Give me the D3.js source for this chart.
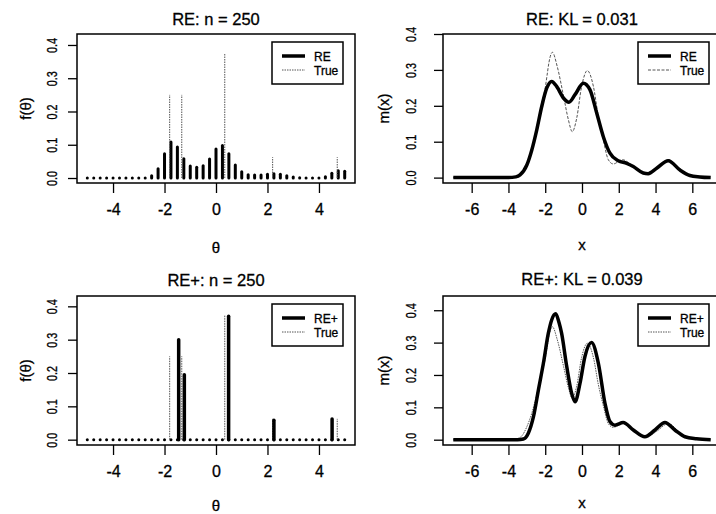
<!DOCTYPE html>
<html>
<head>
<meta charset="utf-8">
<script src="https://cdn.jsdelivr.net/npm/d3@7"></script>
<style>
body { margin: 0; background: #fff; }
svg { display: block; font-family: "Liberation Sans", Arial, sans-serif; }
svg text { stroke: #000; stroke-width: 0.3px; }
</style>
</head>
<body>
<svg width="716" height="514"></svg>
<script>
// grid of theta values that carry the RE estimate
var thetaGrid = [-5, -4.75, -4.5, -4.25, -4, -3.75, -3.5, -3.25, -3, -2.75,
  -2.5, -2.25, -2, -1.75, -1.5, -1.25, -1, -0.75, -0.5, -0.25,
  0, 0.25, 0.5, 0.75, 1, 1.25, 1.5, 1.75, 2, 2.25,
  2.5, 2.75, 3, 3.25, 3.5, 3.75, 4, 4.25, 4.5, 4.75, 5];
var reMass = [0, 0, 0, 0, 0, 0, 0, 0, 0, 0,
  0.007, 0.028, 0.073, 0.108, 0.093, 0.058, 0.036, 0.032, 0.037, 0.057,
  0.087, 0.098, 0.073, 0.039, 0.019, 0.010, 0.009, 0.009, 0.011, 0.013,
  0.011, 0.007, 0.003, 0.001, 0, 0, 0, 0.004, 0.014, 0.022, 0.020];

// true mixing distribution
var trueAtoms = [-1.8, -1.33, 0.34, 2.2, 4.71];
var trueMass = [0.25, 0.25, 0.375, 0.0625, 0.0625];

// RE+ estimate
var rePlusAtoms = [-1.45, -1.23, 0.49, 2.25, 4.51];
var rePlusMass = [0.30, 0.195, 0.37, 0.058, 0.062];

// marginal densities m(x)
var reX = [-7, -4, -3.6, -3.37, -3.0, -2.73, -2.46, -2.19, -1.92, -1.65,
  -1.38, -1.0, -0.71, -0.38, 0.07, 0.43, 0.8, 1.16, 1.52, 1.97,
  2.43, 2.79, 3.33, 3.6, 4.06, 4.69, 5.33, 5.87, 6.41, 7];
var reM = [0, 0, 0.002, 0.0075, 0.035, 0.077, 0.133, 0.198, 0.249, 0.268,
  0.254, 0.221, 0.21, 0.231, 0.263, 0.245, 0.18, 0.114, 0.068, 0.047,
  0.04, 0.031, 0.013, 0.011, 0.026, 0.047, 0.021, 0.006, 0.002, 0];

var rePlusX = [-7, -3.5, -3.19, -2.92, -2.64, -2.37, -2.1, -1.83, -1.65, -1.43,
  -1.25, -1.11, -0.83, -0.56, -0.38, -0.11, 0.16, 0.52, 0.89, 1.25,
  1.52, 1.79, 2.24, 2.79, 3.42, 3.97, 4.51, 5.05, 5.6, 6.23, 7];
var rePlusM = [0, 0, 0.002, 0.02, 0.071, 0.154, 0.236, 0.329, 0.37, 0.389,
  0.362, 0.329, 0.226, 0.143, 0.117, 0.174, 0.257, 0.30, 0.236, 0.112,
  0.056, 0.045, 0.053, 0.03, 0.009, 0.03, 0.053, 0.03, 0.009, 0.003, 0];

var trueX = [-7, -4, -3.6, -3.3, -3.0, -2.73, -2.46, -2.2, -2.0, -1.9,
  -1.8, -1.61, -1.35, -1.0, -0.74, -0.53, -0.29, -0.02, 0.29, 0.62,
  0.89, 1.16, 1.43, 1.7, 2.2, 2.7, 3.3, 3.6, 4.06, 4.7,
  5.33, 5.87, 6.41, 7];
var trueM = [0, 0, 0.002, 0.01, 0.04, 0.082, 0.14, 0.205, 0.25, 0.285,
  0.32, 0.349, 0.31, 0.226, 0.161, 0.128, 0.165, 0.254, 0.298, 0.254,
  0.17, 0.105, 0.05, 0.038, 0.05, 0.035, 0.013, 0.011, 0.026, 0.05,
  0.021, 0.006, 0.002, 0];

var thetaTicks = [-4, -2, 0, 2, 4],
    xTicks = [-6, -4, -2, 0, 2, 4, 6],
    yTicks = [0, 0.1, 0.2, 0.3, 0.4];

var svg = d3.select("svg");
var trueColor = "#555";

function drawPanel(p) {
  var x = d3.scaleLinear().domain(p.xdom).range([p.left, p.right]),
      y = d3.scaleLinear().domain(p.ydom).range([p.bottom, p.top]);
  var g = svg.append("g");

  g.append("clipPath").attr("id", p.id)
    .append("rect")
      .attr("x", p.left).attr("y", p.top)
      .attr("width", p.right - p.left).attr("height", p.bottom - p.top);

  var plot = g.append("g").attr("clip-path", "url(#" + p.id + ")");
  p.marks(plot, x, y);

  // box
  g.append("rect")
      .attr("x", p.left).attr("y", p.top)
      .attr("width", p.right - p.left).attr("height", p.bottom - p.top)
      .attr("fill", "none").attr("stroke", "#000").attr("stroke-width", 1.5);

  // x axis
  g.append("g")
      .attr("transform", "translate(0," + p.bottom + ")")
      .call(d3.axisBottom(x).tickValues(p.xticks).tickSize(10).tickFormat(function(d) { return String(d); }))
      .call(function(a) {
        a.attr("font-family", null).attr("font-size", 16);
        a.select(".domain").remove();
        a.selectAll(".tick line").attr("stroke-width", 1.3);
        a.selectAll("text").attr("y", 32).attr("dy", 0).attr("fill", "#000");
      });

  // y axis, labels parallel to the axis like R
  g.append("g")
      .attr("transform", "translate(" + p.left + ",0)")
      .call(d3.axisLeft(y).tickValues(yTicks).tickSize(9).tickFormat(d3.format(".1f")))
      .call(function(a) {
        a.attr("font-family", null).attr("font-size", 14);
        a.select(".domain").remove();
        a.selectAll(".tick line").attr("stroke-width", 1.3);
        a.selectAll("text")
            .attr("transform", "rotate(-90)")
            .attr("x", 0).attr("y", p.ytickOff).attr("dy", 0)
            .attr("text-anchor", "middle").attr("fill", "#000")
            .attr("textLength", 15).attr("lengthAdjust", "spacingAndGlyphs");
      });

  var cx = (p.left + p.right) / 2, cy = (p.top + p.bottom) / 2;
  g.append("text").attr("x", cx).attr("y", p.titleY)
      .attr("text-anchor", "middle").attr("font-size", 16.5).text(p.title);
  g.append("text").attr("x", cx).attr("y", p.xlabY)
      .attr("text-anchor", "middle").attr("font-size", 15).text(p.xlab);
  g.append("text").attr("transform", "translate(" + p.ylabX + "," + cy + ") rotate(-90)")
      .attr("text-anchor", "middle").attr("font-size", 15).text(p.ylab);

  // legend
  var lg = g.append("g").attr("transform", "translate(" + (p.right - 83) + "," + (p.top + 8) + ")");
  lg.append("rect").attr("width", 71).attr("height", 42)
      .attr("fill", "#fff").attr("stroke", "#000").attr("stroke-width", 1.5);
  lg.append("line").attr("x1", 10).attr("x2", 33).attr("y1", 14).attr("y2", 14)
      .attr("stroke", "#000").attr("stroke-width", 3.5);
  lg.append("line").attr("x1", 10).attr("x2", 33).attr("y1", 28).attr("y2", 28)
      .attr("stroke", trueColor).attr("stroke-width", 1).attr("stroke-dasharray", p.dash);
  lg.append("text").attr("x", 42).attr("y", 19).attr("font-size", 12).text(p.est);
  lg.append("text").attr("x", 42).attr("y", 33).attr("font-size", 12).text("True");
}

function spikes(sel, xs, ms, x, y, width, color, dash) {
  sel.append("g").selectAll("path")
    .data(xs.map(function(v, i) { return [v, ms[i]]; }))
    .join("path")
      .attr("d", function(d) { return "M" + x(d[0]) + "," + y(0) + "L" + x(d[0]) + "," + y(d[1]); })
      .attr("stroke", color).attr("stroke-width", width)
      .attr("stroke-linecap", dash ? "butt" : "round")
      .attr("stroke-dasharray", dash || null);
}

function curve(sel, xs, ms, x, y, width, color, dash) {
  var line = d3.line().curve(d3.curveMonotoneX)
      .x(function(d) { return x(d[0]); })
      .y(function(d) { return y(d[1]); });
  sel.append("path")
      .datum(xs.map(function(v, i) { return [v, ms[i]]; }))
      .attr("d", line)
      .attr("fill", "none").attr("stroke", color).attr("stroke-width", width)
      .attr("stroke-linejoin", "round")
      .attr("stroke-dasharray", dash || null);
}

var zeros = thetaGrid.map(function() { return 0; });

drawPanel({
  id: "c1", left: 77, right: 355, top: 34, bottom: 183,
  xdom: [-5.4, 5.4], ydom: [-0.015, 0.433], xticks: thetaTicks, ytickOff: -20,
  title: "RE: n = 250", titleY: 25, xlab: "\u03b8", xlabY: 253, ylab: "f(\u03b8)", ylabX: 31,
  est: "RE", dash: "1.5,1",
  marks: function(s, x, y) {
    spikes(s, thetaGrid, reMass, x, y, 3, "#000");
    spikes(s, trueAtoms, trueMass, x, y, 1, trueColor, "1.5,1");
  }
});

drawPanel({
  id: "c2", left: 443, right: 721, top: 34, bottom: 183,
  xdom: [-7.56, 7.56], ydom: [-0.015, 0.4], xticks: xTicks, ytickOff: -27,
  title: "RE: KL = 0.031", titleY: 25, xlab: "x", xlabY: 250, ylab: "m(x)", ylabX: 389,
  est: "RE", dash: "3,1.5",
  marks: function(s, x, y) {
    curve(s, trueX, trueM, x, y, 1, trueColor, "3,1.5");
    curve(s, reX, reM, x, y, 3.5, "#000");
  }
});

drawPanel({
  id: "c3", left: 77, right: 355, top: 296, bottom: 445,
  xdom: [-5.4, 5.4], ydom: [-0.016, 0.431], xticks: thetaTicks, ytickOff: -20,
  title: "RE+: n = 250", titleY: 286, xlab: "\u03b8", xlabY: 511, ylab: "f(\u03b8)", ylabX: 31,
  est: "RE+", dash: "1.5,1",
  marks: function(s, x, y) {
    spikes(s, thetaGrid, zeros, x, y, 3, "#000");
    spikes(s, trueAtoms, trueMass, x, y, 1, trueColor, "1.5,1");
    spikes(s, rePlusAtoms, rePlusMass, x, y, 3.5, "#000");
  }
});

drawPanel({
  id: "c4", left: 443, right: 721, top: 296, bottom: 445,
  xdom: [-7.56, 7.56], ydom: [-0.0164, 0.444], xticks: xTicks, ytickOff: -27,
  title: "RE+: KL = 0.039", titleY: 285, xlab: "x", xlabY: 508, ylab: "m(x)", ylabX: 389,
  est: "RE+", dash: "1.5,1",
  marks: function(s, x, y) {
    curve(s, trueX, trueM, x, y, 1, trueColor, "1.5,1");
    curve(s, rePlusX, rePlusM, x, y, 3.5, "#000");
  }
});
</script>
</body>
</html>
